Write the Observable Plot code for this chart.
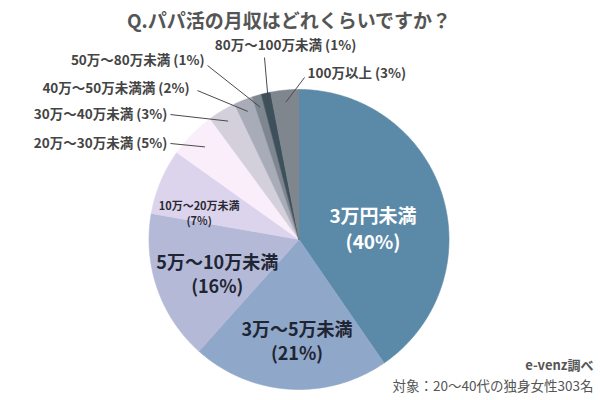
<!DOCTYPE html>
<html>
<head>
<meta charset="utf-8">
<script src="https://cdn.jsdelivr.net/npm/d3@7"></script>
<script src="https://cdn.jsdelivr.net/npm/@observablehq/plot@0.6"></script>
<style>
  html, body { margin: 0; padding: 0; background: #fff; }
  body { width: 600px; height: 400px; overflow: hidden; font-family: "Noto Sans CJK JP", "Noto Sans", sans-serif; }
  #title { height: 40px; line-height: 40px; width: 578px; text-align: center; font-size: 19px; font-weight: bold; color: #555; }
  svg { display: block; overflow: visible; }
</style>
</head>
<body>
<div id="title">Q.パパ活の月収はどれくらいですか？</div>
<div id="chart"></div>
<script>
// ---- data ----
const categories = ["3万円未満", "3万〜5万未満", "5万〜10万未満", "10万〜20万未満", "20万〜30万未満", "30万〜40万未満", "40万〜50万未満満", "50万〜80万未満", "80万〜100万未満", "100万以上"];
const percents = [40, 21, 16, 7, 5, 3, 2, 1, 1, 3];
const colors = ["#5b8aa8", "#8fa7c9", "#b5b9d8", "#dcd4ec", "#fbeefb", "#d3d0db", "#a8abb8", "#7e868f", "#3e505b", "#80868e"];
const source = "e-venz調べ";
const note = "対象：20〜40代の独身女性303名";

// ---- layout (label placement only) ----
const insideLabels = ["3万円未満", "3万〜5万未満", "5万〜10万未満", "10万〜20万未満"];
const insideRadius = {"3万円未満": 0.5, "3万〜5万未満": 0.67, "5万〜10万未満": 0.59, "10万〜20万未満": 0.69};
const insideAngleShift = {"3万円未満": 8, "3万〜5万未満": -2.5, "5万〜10万未満": -3.5, "10万〜20万未満": -7.5};
// callout text anchor and leader start (unit coordinates relative to pie radius)
const calloutText = {
  "20万〜30万未満": [-0.877, 0.64, "end"],
  "30万〜40万未満": [-0.877, 0.833, "end"],
  "40万〜50万未満満": [-0.73, 1.007, "end"],
  "50万〜80万未満": [-0.63, 1.193, "end"],
  "80万〜100万未満": [-0.09, 1.293, "middle"],
  "100万以上": [0.057, 1.107, "start"]
};
const calloutLine = {
  "20万〜30万未満": [-0.857, 0.64],
  "30万〜40万未満": [-0.857, 0.833],
  "40万〜50万未満満": [-0.677, 0.993],
  "50万〜80万未満": [-0.61, 1.16],
  "80万〜100万未満": [-0.23, 1.213],
  "100万以上": [0.037, 1.08]
};

// ---- build ----
const rows = categories.map((c, i) => ({cat: c, p: percents[i]}));
const arcs = d3.pie().sort(null).value(d => d.p)(rows);

const slicePts = [];
arcs.forEach(a => {
  const c = a.data.cat;
  slicePts.push({cat: c, x: 0, y: 0});
  const n = Math.max(2, Math.ceil((a.endAngle - a.startAngle) / 0.01));
  for (let k = 0; k <= n; k++) {
    const t = a.startAngle + (a.endAngle - a.startAngle) * k / n;
    slicePts.push({cat: c, x: Math.sin(t), y: Math.cos(t)});
  }
  slicePts.push({cat: c, x: 0, y: 0});
});

const mid = a => (a.startAngle + a.endAngle) / 2;

const inside = arcs.filter(a => insideLabels.includes(a.data.cat)).map(a => {
  const c = a.data.cat;
  const t = mid(a) + insideAngleShift[c] * Math.PI / 180;
  const r = insideRadius[c];
  return {cat: c, text: `${c}\n(${a.data.p}%)`, x: r * Math.sin(t), y: r * Math.cos(t)};
});

const callouts = arcs.filter(a => calloutText[a.data.cat]).map(a => {
  const c = a.data.cat;
  const t = mid(a);
  const [tx, ty, anchor] = calloutText[c];
  const [lx, ly] = calloutLine[c];
  const re = c === "20万〜30万未満" ? 0.88 : 0.92;
  return {cat: c, text: `${c} (${a.data.p}%)`, tx, ty, anchor, lx, ly, ex: re * Math.sin(t), ey: re * Math.cos(t)};
});

const textFont = "'Noto Sans CJK JP', 'Noto Sans', sans-serif";
const callFont = {fontSize: 13.5, fontWeight: "bold", fill: "#444"};

const chart = Plot.plot({
  width: 600,
  height: 360,
  margin: 0,
  x: {domain: [-1, 1], range: [148.5, 448.5], axis: null},
  y: {domain: [-1, 1], range: [349, 49], axis: null},
  color: {type: "ordinal", domain: categories, range: colors},
  style: {fontFamily: textFont, background: "#fff", overflow: "visible"},
  marks: [
    Plot.line(slicePts, {x: "x", y: "y", z: "cat", fill: "cat", stroke: "cat", strokeWidth: 0.6, curve: "linear"}),
    Plot.link(callouts, {x1: "lx", y1: "ly", x2: "ex", y2: "ey", stroke: "#4a4a4a", strokeWidth: 1}),
    Plot.text(callouts.filter(d => d.anchor === "end"), {x: "tx", y: "ty", text: "text", textAnchor: "end", ...callFont}),
    Plot.text(callouts.filter(d => d.anchor === "middle"), {x: "tx", y: "ty", text: "text", textAnchor: "middle", ...callFont}),
    Plot.text(callouts.filter(d => d.anchor === "start"), {x: "tx", y: "ty", text: "text", textAnchor: "start", ...callFont}),
    Plot.text(inside.filter(d => d.cat === "3万円未満"), {x: "x", y: "y", text: "text", fontSize: 19, fontWeight: "bold", fill: "#fff", lineHeight: 1.4}),
    Plot.text(inside.filter(d => d.cat === "3万〜5万未満" || d.cat === "5万〜10万未満"), {x: "x", y: "y", text: "text", fontSize: 18, fontWeight: "bold", fill: "#1f2533", lineHeight: 1.35}),
    Plot.text(inside.filter(d => d.cat === "10万〜20万未満"), {x: "x", y: "y", text: "text", fontSize: 11, fontWeight: "bold", fill: "#2a2a35", lineHeight: 1.35}),
    Plot.text([source], {frameAnchor: "bottom-right", text: d => d, dx: -7, dy: -31, textAnchor: "end", fontSize: 13, fontWeight: "bold", fill: "#555"}),
    Plot.text([note], {frameAnchor: "bottom-right", text: d => d, dx: -7, dy: -10, textAnchor: "end", fontSize: 13.5, fill: "#555"})
  ]
});
document.getElementById("chart").appendChild(chart);
</script>
</body>
</html>
